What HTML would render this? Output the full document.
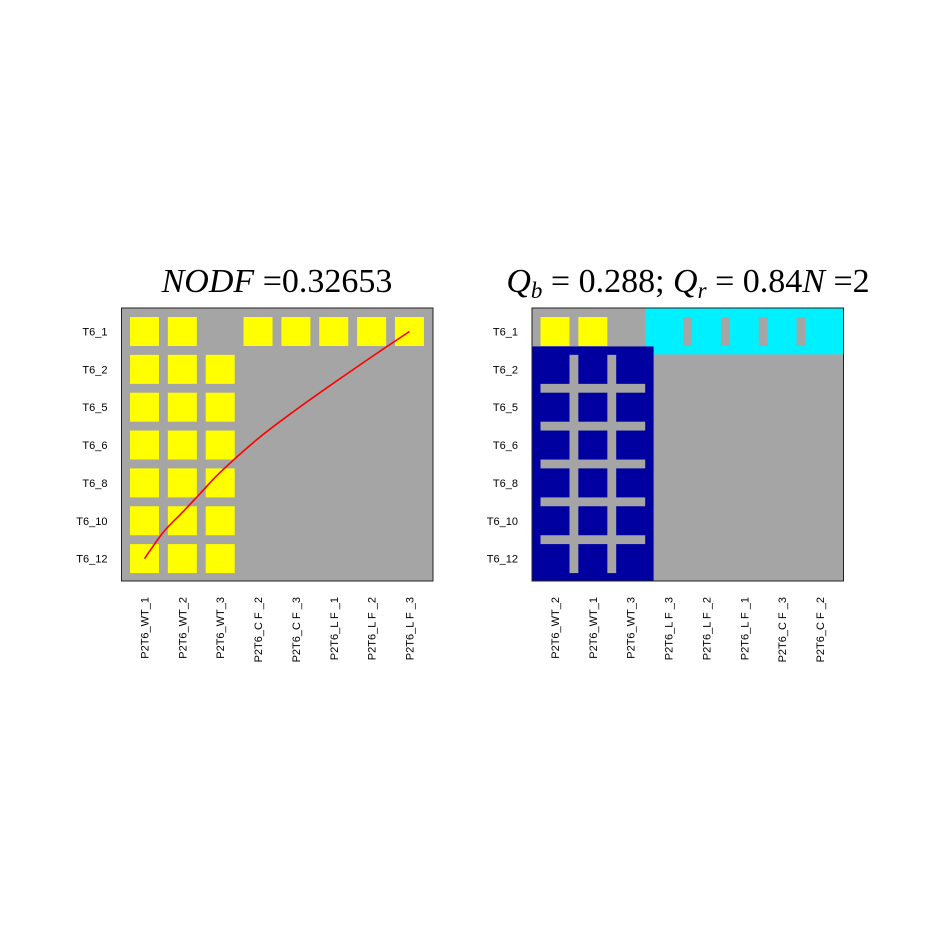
<!DOCTYPE html>
<html><head><meta charset="utf-8"><style>
body{margin:0;background:#fff;}
svg text{font-family:"Liberation Sans",sans-serif;}
svg text.ttl{font-family:"Liberation Serif",serif;}
</style></head><body>
<svg id="c" width="932" height="922" xmlns="http://www.w3.org/2000/svg">
<rect width="932" height="922" fill="#fff"/>
<text class="ttl" x="277" y="292" font-size="34" text-anchor="middle"><tspan font-style="italic">NODF</tspan> =0.32653</text>
<text class="ttl" x="688" y="292" font-size="34" text-anchor="middle"><tspan font-style="italic">Q</tspan><tspan font-style="italic" font-size="23" dy="6">b</tspan><tspan dy="-6"> = 0.288; </tspan><tspan font-style="italic">Q</tspan><tspan font-style="italic" font-size="23" dy="6">r</tspan><tspan dy="-6"> = 0.84</tspan><tspan font-style="italic">N</tspan> =2</text>
<g id="left"></g><g id="right"></g>
</svg>
<script>
const rowLabels=["T6_1","T6_2","T6_5","T6_6","T6_8","T6_10","T6_12"];
const leftCols=["P2T6_WT_1","P2T6_WT_2","P2T6_WT_3","P2T6_C F _2","P2T6_C F _3","P2T6_L F _1","P2T6_L F _2","P2T6_L F _3"];
const rightCols=["P2T6_WT_2","P2T6_WT_1","P2T6_WT_3","P2T6_L F _3","P2T6_L F _2","P2T6_L F _1","P2T6_C F _3","P2T6_C F _2"];
const leftMatrix=[
[1,1,0,1,1,1,1,1],
[1,1,1,0,0,0,0,0],
[1,1,1,0,0,0,0,0],
[1,1,1,0,0,0,0,0],
[1,1,1,0,0,0,0,0],
[1,1,1,0,0,0,0,0],
[1,1,1,0,0,0,0,0]];
const curveX=[0,0.5,1,1.5,2,3,4,5,6,7];
const curveY=[6,5.3,4.78,4.25,3.72,2.83,2.07,1.36,0.67,0];
const modRows=[[0,0],[1,6]];
const modCols=[[3,7],[0,2]];
const modColors=["#00f0ff","#0000a0"];
const rightMatrix=[
[1,1,0,1,1,1,1,1],
[1,1,1,0,0,0,0,0],
[1,1,1,0,0,0,0,0],
[1,1,1,0,0,0,0,0],
[1,1,1,0,0,0,0,0],
[1,1,1,0,0,0,0,0],
[1,1,1,0,0,0,0,0]];
const NS="http://www.w3.org/2000/svg";
const P=37.85,SQ=29;
function mk(t,a,p){const e=document.createElementNS(NS,t);for(const k in a)e.setAttribute(k,a[k]);p.appendChild(e);return e;}
function panel(g,x0,lbls){
  const ax={x0:x0,y0:308,w:311.5,h:273};
  ax.cx=i=>x0+23+P*i; ax.cy=j=>331.5+P*j;
  const bg=mk('rect',{x:ax.x0,y:ax.y0,width:ax.w,height:ax.h,fill:'#a5a5a5'},g);
  
  
  rowLabels.forEach((l,j)=>{const t=mk('text',{x:x0-14,y:ax.cy(j)+4,'font-size':11,'text-anchor':'end'},g);t.textContent=l;
    
    });
  lbls.forEach((l,i)=>{const x=ax.cx(i)+4;const t=mk('text',{x:x,y:597,'font-size':11,'text-anchor':'end',transform:`rotate(-90 ${x} 597)`},g);t.textContent=l;
    
    });
  return ax;
}
function cells(g,ax,m,skip){
  m.forEach((r,j)=>r.forEach((v,i)=>{if(v&&!(skip&&skip(j,i))){const c=mk('rect',{x:ax.cx(i)-SQ/2,y:ax.cy(j)-SQ/2,width:SQ,height:SQ,fill:'#ffff00'},g);
    
    }}));
}
const L=document.getElementById('left'),R=document.getElementById('right');
const la=panel(L,121.5,leftCols);
cells(L,la,leftMatrix);
const pts=curveX.map((x,k)=>[la.cx(x),la.cy(curveY[k])]);
let d='M'+pts[0][0]+' '+pts[0][1];
for(let k=0;k<pts.length-1;k++){
  const p0=pts[Math.max(k-1,0)],p1=pts[k],p2=pts[k+1],p3=pts[Math.min(k+2,pts.length-1)];
  const c1=[p1[0]+(p2[0]-p0[0])/6,p1[1]+(p2[1]-p0[1])/6];
  const c2=[p2[0]-(p3[0]-p1[0])/6,p2[1]-(p3[1]-p1[1])/6];
  d+=` C${c1[0]} ${c1[1]} ${c2[0]} ${c2[1]} ${p2[0]} ${p2[1]}`;
}
const cp=mk('path',{d:d,fill:'none',stroke:'#ff0000','stroke-width':1.6},L);


mk('rect',{x:la.x0,y:la.y0,width:la.w,height:la.h,fill:'none',stroke:'#222','stroke-width':1},L);

const ra=panel(R,532,rightCols);
modRows.forEach((rr,k)=>{
  const [r0,r1]=rr,[c0,c1]=modCols[k];
  const x1=k===0?ra.cx(c0)-P/2-4:ra.x0, x2=k===0?ra.x0+ra.w:ra.cx(c1)+P/2+4;
  const y1=k===0?ra.y0:ra.cy(r0)-P/2-4, y2=k===0?ra.cy(r1)+P/2+4:ra.y0+ra.h;
  const mr=mk('rect',{x:x1,y:y1,width:x2-x1,height:y2-y1,fill:modColors[k]},R);
  
  
  for(let i=c0;i<c1;i++){const gx=ra.cx(i)+SQ/2;mk('rect',{x:gx,y:ra.cy(r0)-SQ/2,width:P-SQ,height:ra.cy(r1)-ra.cy(r0)+SQ,fill:'#a5a5a5'},R);}
  for(let j=r0;j<r1;j++){const gy=ra.cy(j)+SQ/2;mk('rect',{x:ra.cx(c0)-SQ/2,y:gy,width:ra.cx(c1)-ra.cx(c0)+SQ,height:P-SQ,fill:'#a5a5a5'},R);}
});
cells(R,ra,rightMatrix,(j,i)=>modRows.some((rr,k)=>j>=rr[0]&&j<=rr[1]&&i>=modCols[k][0]&&i<=modCols[k][1]));
mk('rect',{x:ra.x0,y:ra.y0,width:ra.w,height:ra.h,fill:'none',stroke:'#222','stroke-width':1},R);
</script>
</body></html>
